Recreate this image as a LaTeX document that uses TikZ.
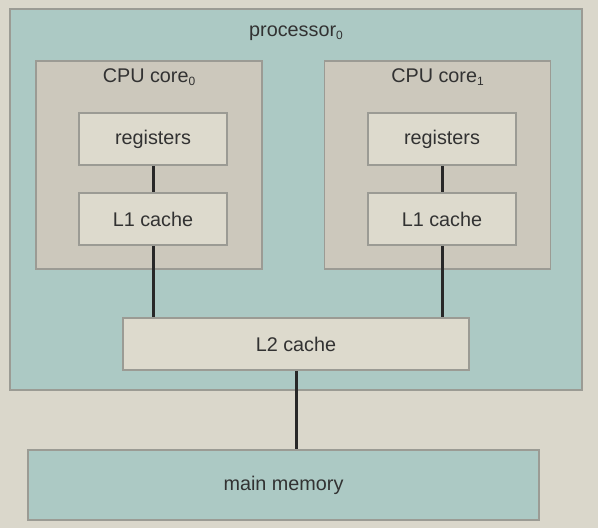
\documentclass[tikz,border=0pt]{standalone}
\usepackage{fontspec}
\setmainfont{Liberation Sans}
\definecolor{bgbeige}{RGB}{218,215,203}
\definecolor{procteal}{RGB}{172,201,196}
\definecolor{coregray}{RGB}{204,200,188}
\definecolor{boxfill}{RGB}{221,218,205}
\definecolor{edgegray}{RGB}{155,155,148}
\definecolor{txt}{RGB}{50,50,50}
\definecolor{wire}{RGB}{40,40,40}
\newcommand{\sub}[1]{\raisebox{-0.35ex}{\fontsize{12}{12}\selectfont #1}}
\tikzset{
  box/.style={draw=edgegray, line width=1.6pt, rectangle, inner sep=0pt, text=txt},
  inner/.style={box, fill=boxfill, minimum width=148pt, minimum height=52pt},
  corebox/.style={box, fill=coregray, minimum width=226pt, minimum height=208pt},
  lbl/.style={text=txt, inner sep=0pt},
  wireline/.style={draw=wire, line width=3pt},
}
\begin{document}
\begin{tikzpicture}[x=1pt,y=-1pt, every node/.style={font=\fontsize{19.8}{23}\selectfont}]
\fill[bgbeige] (0,0) rectangle (598,528);
\useasboundingbox (0,0) rectangle (598,528);
\node[box, fill=procteal, minimum width=572pt, minimum height=381pt] (proc) at (296,199.5) {};
\node[lbl] (proclbl) at (296,33) {processor\sub{0}};
\node[corebox] (core0) at (149,165) {};
\node[corebox] (core1) at (437.5,165) {};
\node[lbl] (core0lbl) at (149,77) {CPU core\sub{0}};
\node[lbl] (core1lbl) at (437.5,77) {CPU core\sub{1}};
\node[inner] (reg0) at (153,139) {registers};
\node[inner] (l10) at (153,219) {L1 cache};
\node[inner] (reg1) at (442,139) {registers};
\node[inner] (l11) at (442,219) {L1 cache};
\node[box, fill=boxfill, minimum width=346pt, minimum height=52pt] (l2) at (296,344) {L2 cache};
\node[box, fill=procteal, minimum width=511pt, minimum height=70pt] (mem) at (283.5,485) {main memory};
\draw[wireline] (reg0.south) -- (l10.north);
\draw[wireline] (reg1.south) -- (l11.north);
\draw[wireline] (l10.south) -- (l10.south |- l2.north);
\draw[wireline] (l11.south) -- (l11.south |- l2.north);
\draw[wireline] (l2.south) -- (l2.south |- mem.north);
\end{tikzpicture}
\end{document}
